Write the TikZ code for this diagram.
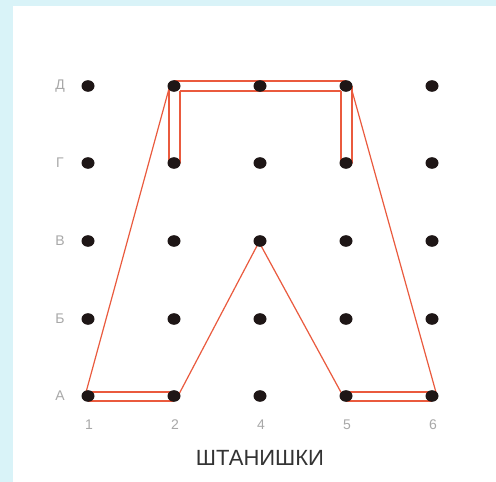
\documentclass[tikz,border=0pt]{standalone}
\usepackage{fontspec}
\setmainfont{Liberation Sans}
\usetikzlibrary{calc}
\definecolor{frame}{HTML}{D9F3F8}
\definecolor{thread}{HTML}{EA5A3E}
\definecolor{peg}{HTML}{1E1616}
\definecolor{lab}{HTML}{A8A8A8}
\definecolor{ttl}{HTML}{333333}
\tikzset{
  pegdot/.style={fill=peg, draw=none},
  rowlab/.style={text=lab, font=\fontsize{14}{14}\selectfont, inner sep=0pt},
  collab/.style={text=lab, font=\fontsize{14}{14}\selectfont, inner sep=0pt},
  titlelab/.style={text=ttl, font=\fontsize{22}{22}\selectfont, inner sep=0pt},
  threadline/.style={draw=thread, line width=1.2pt, line join=round}
}
\begin{document}
\begin{tikzpicture}[x=1pt,y=-1pt]
\useasboundingbox (0,0) rectangle (496,482);
\fill[frame] (0,0) rectangle (496,482);
\fill[white] (13,6) rectangle (496,482);
% peg coordinates
\foreach \c/\x in {1/88,2/174,4/260,5/346,6/432}{
  \foreach \r/\y in {A/396,B/319,V/241,G/163,D/86}{
    \coordinate (p\r\c) at (\x,\y);
  }
}
% thread
\draw[threadline] ($(pA1)+(-3,0)$) -- ($(pD2)+(-4,-1)$);
\draw[threadline] ($(pD2)+(-5,0)$) -- ($(pG2)+(-5,0)$) -- ($(pG2)+(6,0)$) -- ($(pD2)+(6,5)$);
\draw[threadline] ($(pD2)+(0,-5)$) -- ($(pD5)+(0,-5)$);
\draw[threadline] ($(pD2)+(6,5)$) -- ($(pD5)+(-5,5)$);
\draw[threadline] ($(pD5)+(-5,5)$) -- ($(pG5)+(-5,0)$) -- ($(pG5)+(6,0)$) -- ($(pD5)+(6,0)$);
\draw[threadline] ($(pD5)+(5,1)$) -- ($(pA6)+(5,0)$);
\draw[threadline] ($(pA5)+(0,-4)$) -- ($(pA6)+(0,-4)$);
\draw[threadline] ($(pA5)+(0,5)$) -- ($(pA6)+(0,5)$);
\draw[threadline] ($(pA1)+(0,-4)$) -- ($(pA2)+(0,-4)$);
\draw[threadline] ($(pA1)+(0,5)$) -- ($(pA2)+(0,5)$);
\draw[threadline] ($(pA2)+(4,0)$) -- ($(pV4)+(-1,1)$) -- ($(pA5)+(-3,0)$);
% pegs
\foreach \c in {1,2,4,5,6}{
  \foreach \r in {A,B,V,G,D}{
    \fill[pegdot] (p\r\c) ellipse [x radius=6.5, y radius=5.8];
  }
}
% row labels
\node[rowlab] (lD) at (60,86) {Д};
\node[rowlab] (lG) at (60,163) {Г};
\node[rowlab] (lV) at (60,241) {В};
\node[rowlab] (lB) at (60,319) {Б};
\node[rowlab] (lA) at (60,396) {А};
% column labels
\node[collab] (c1) at (89,425) {1};
\node[collab] (c2) at (175,425) {2};
\node[collab] (c4) at (261,425) {4};
\node[collab] (c5) at (347,425) {5};
\node[collab] (c6) at (433,425) {6};
% title
\node[titlelab] (title) at (260,458) {ШТАНИШКИ};
\end{tikzpicture}
\end{document}
